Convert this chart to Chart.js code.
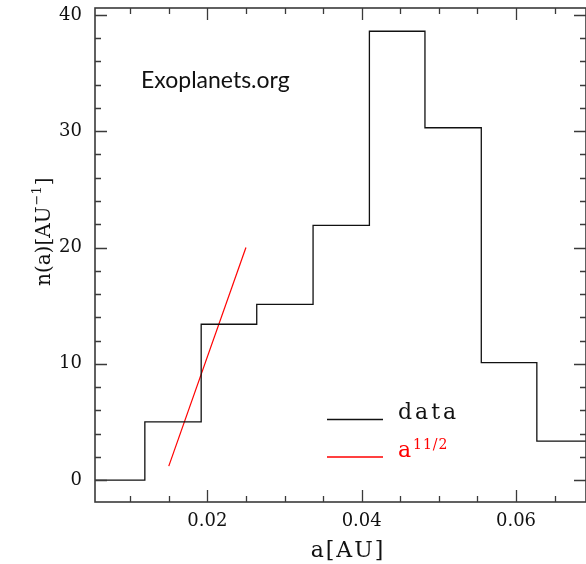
<!DOCTYPE html>
<html>
<head>
  <meta charset="UTF-8" />
  <title>n(a) histogram</title>
  <script src="https://cdn.jsdelivr.net/npm/chart.js"></script>
  <style>
    body { margin: 0; background: #fff; }
    canvas { display: block; }
  </style>
</head>
<body>
  <canvas id="chart" width="586" height="564"></canvas>
  <script>
    // histogram: left bin edges (AU) and n(a) per bin
    const binEdges = [0.0047, 0.0119, 0.0192, 0.0264, 0.0337, 0.0410, 0.0482, 0.0555, 0.0627, 0.0700];
    const counts   = [0, 5.0, 13.4, 15.1, 21.9, 38.6, 30.3, 10.1, 3.35];

    // a^(11/2) guide line, end points only
    const fitA = [0.015, 0.025];
    const fitN = [1.2, 20.0];

    const xTickLabels = [0.02, 0.04, 0.06];
    const yTickLabels = [0, 10, 20, 30, 40];

    const histPoints = binEdges.map((x, i) => ({ x: x, y: counts[Math.min(i, counts.length - 1)] }));
    const fitPoints = fitA.map((x, i) => ({ x: x, y: fitN[i] }));

    const serif = '"DejaVu Serif", serif';

    // frame with inward ticks on all four sides, legend and the watermark text
    const decorations = {
      id: 'decorations',
      afterDraw(chart) {
        const ctx = chart.ctx;
        const a = chart.chartArea;
        const xs = chart.scales.x, ys = chart.scales.y;
        ctx.save();
        ctx.strokeStyle = '#3a3a3a';
        ctx.lineWidth = 1.6;
        ctx.strokeRect(a.left, a.top, a.right - a.left, a.bottom - a.top);

        ctx.lineWidth = 1.3;
        ctx.beginPath();
        for (let v = 0.005; v <= 0.0695; v += 0.005) {
          if (v < xs.min || v > xs.max) continue;
          const px = Math.round(xs.getPixelForValue(v)) + 0.5;
          const major = Math.abs(v / 0.02 - Math.round(v / 0.02)) < 1e-6;
          const len = major ? 12 : 6;
          ctx.moveTo(px, a.bottom); ctx.lineTo(px, a.bottom - len);
          ctx.moveTo(px, a.top); ctx.lineTo(px, a.top + len);
        }
        for (let v = 0; v <= 40; v += 2) {
          const py = Math.round(ys.getPixelForValue(v)) + 0.5;
          const len = v % 10 === 0 ? 12 : 6;
          ctx.moveTo(a.left, py); ctx.lineTo(a.left + len, py);
          ctx.moveTo(a.right, py); ctx.lineTo(a.right - len, py);
        }
        ctx.stroke();

        // watermark
        ctx.fillStyle = '#111';
        ctx.font = '23px Lato, "Open Sans", sans-serif';
        ctx.textBaseline = 'alphabetic';
        ctx.textAlign = 'left';
        ctx.fillText('Exoplanets.org', 141, 88);

        // legend
        ctx.lineWidth = 1.3;
        ctx.strokeStyle = '#111';
        ctx.beginPath(); ctx.moveTo(327, 419.5); ctx.lineTo(383, 419.5); ctx.stroke();
        ctx.strokeStyle = '#ff0000';
        ctx.beginPath(); ctx.moveTo(327, 457); ctx.lineTo(383, 457); ctx.stroke();

        ctx.font = '22px ' + serif;
        ctx.letterSpacing = '3px';
        ctx.fillStyle = '#111';
        ctx.fillText('data', 398, 419);
        ctx.fillStyle = '#ff0000';
        ctx.letterSpacing = '0px';
        ctx.fillText('a', 398, 457);
        ctx.font = '14px ' + serif;
        ctx.letterSpacing = '1px';
        ctx.fillText('11/2', 413, 449);

        // axis titles
        ctx.fillStyle = '#111';
        ctx.font = '22px ' + serif;
        ctx.letterSpacing = '2px';
        ctx.textAlign = 'center';
        ctx.fillText('a[AU]', 348, 557);

        ctx.save();
        ctx.translate(50, 286);
        ctx.rotate(-Math.PI / 2);
        ctx.textAlign = 'left';
        ctx.letterSpacing = '0px';
        ctx.font = '20px ' + serif;
        const main = 'n(a)[AU';
        ctx.fillText(main, 0, 0);
        const w1 = ctx.measureText(main).width;
        ctx.font = '13px ' + serif;
        ctx.fillText('\u22121', w1 + 1, -9);
        const w2 = ctx.measureText('\u22121').width;
        ctx.font = '20px ' + serif;
        ctx.fillText(']', w1 + w2 + 2, 0);
        ctx.restore();

        ctx.restore();
      }
    };

    new Chart(document.getElementById('chart'), {
      type: 'scatter',
      data: {
        datasets: [
          {
            label: 'data',
            data: histPoints,
            showLine: true,
            stepped: 'before',
            borderColor: '#111',
            borderWidth: 1.3,
            pointRadius: 0
          },
          {
            label: 'a^11/2',
            data: fitPoints,
            showLine: true,
            borderColor: '#ff0000',
            borderWidth: 1.2,
            pointRadius: 0
          }
        ]
      },
      options: {
        responsive: false,
        animation: false,
        layout: { padding: { top: 8, right: 0, left: 0, bottom: 0 } },
        plugins: {
          legend: { display: false },
          tooltip: { enabled: false }
        },
        scales: {
          x: {
            type: 'linear',
            min: 0.00544,
            max: 0.06907,
            afterBuildTicks: s => { s.ticks = xTickLabels.map(v => ({ value: v })); },
            afterFit: s => { s.height = 62; s.paddingLeft = 0; s.paddingRight = 0; },
            border: { display: false },
            grid: { drawOnChartArea: false, drawTicks: false },
            ticks: {
              padding: 9,
              maxRotation: 0,
              color: '#111',
              font: { family: serif, size: 18 },
              callback: v => v.toFixed(2)
            }
          },
          y: {
            type: 'linear',
            min: -1.89,
            max: 40.6,
            afterBuildTicks: s => { s.ticks = yTickLabels.map(v => ({ value: v })); },
            afterFit: s => { s.width = 95; s.paddingTop = 0; s.paddingBottom = 0; },
            border: { display: false },
            grid: { drawOnChartArea: false, drawTicks: false },
            ticks: {
              padding: 13,
              color: '#111',
              font: { family: serif, size: 18 },
              callback: v => String(v)
            }
          }
        }
      },
      plugins: [decorations]
    });
  </script>
</body>
</html>
